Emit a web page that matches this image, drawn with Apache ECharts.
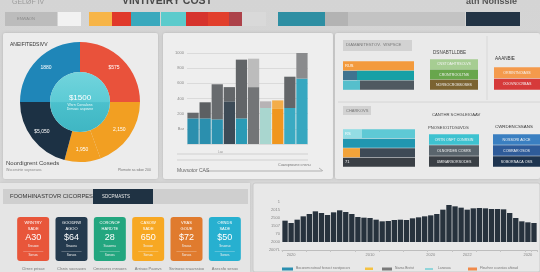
<!DOCTYPE html>
<html><head><meta charset="utf-8">
<script src="https://cdn.jsdelivr.net/npm/echarts/dist/echarts.min.js"></script>
<style>html,body{margin:0;padding:0;background:#d9d9d9}#c{width:540px;height:272px}</style>
</head><body><div id="c"></div>
<script>
const FONT = 'Liberation Sans, Arial, sans-serif';

// ---- header palette strip (segment shares, null colour = gap)
const swatchShares = [52,1,23,8,23,19,29,1,25,22,21,13,24,12,47,23,117,1,54];
const swatchColors = ['#bcbcbc',null,'#f2f2f2',null,'#f7b548','#e0392a','#3aa9bd',null,'#5ccbcc','#d6332d','#e23f2c','#ad424a','#d9d9d9',null,'#2e8fa3','#b3b3b3','#c3c3c3',null,'#233445'];

// ---- donut
const pieValues = [90,70,35,75,90];
const pieLabels = ['$575','2,150','1,950','$5,050','1880'];
const pieColors = ['#e9523b','#f29f22','#f29f22','#1c3144','#1f86b8'];
const pieCenterTitle = '$1500';

// ---- middle stacked bars
const costCats = ['A','B','C','D','E','F','G','H','I','J'];
const costBase = [27,27,26,45,27,60,38,37,38,69];
const costTop  = [6,17,37,15,62,30,7,9,33,27];
const costBaseColors = ['#2b8fae','#2b8fae','#2b92b0','#3d4b57','#2b9ab5','#737577','#a9d6cf','#f0961e','#3aaac2','#36a7c0'];
const costTopColors  = ['#66696c','#5c5f62','#686b6e','#636669','#626568','#bcbcbc','#b7b3b5','#f3ad4a','#636669','#8a8b8d'];
const costTicks = ['','Bar','200','400','600','800','1000'];

// ---- right panel stacks
const budgetRows = [[71],[14,57],[17,54]];
const budgetColors = [['#f39a3c'],['#3f7390','#17a0a6'],['#56bfcc','#4f5961']];
const budgetLabels = ['RUS','',''];
const channelRows = [[19,53],[72],[17,55],[72]];
const channelColors = [['#93dde4','#5ec9d5'],['#2196b0'],['#f2a33a','#3e4a56'],['#3a3f45']];
const channelLabels = ['RS','','','71'];
const greenBoxes = ['CNSTOAHTRSOLVS','CRONTROOLTNS','NORSOCROBSOSES'];
const greenColors = ['#a6cd92','#68a64c','#7b6331'];
const warmBoxes = ['ORRINTNOIASS','OOOVNOCRBAS'];
const warmColors = ['#f49a4c','#d63a3a'];
const tealBoxes = ['ORTN ONFT CONRSIN','OLNORDES COSRS','UMINARSORSODES'];
const tealColors = ['#3ec2d0','#5a656d','#3a3f45'];
const blueBoxes = ['NOSSORI AOCE','COBRAR OSOS','SOBORNACA OSS'];
const blueColors = ['#3a7fc1','#2e5b99','#1e344f'];

// ---- cards
const cardTitles = [['WRNTRY','SADE'],['GOODRW','AGOO'],['CORONOF','HARDTE'],['CASOW','SADE'],['VRAS','GOUE'],['ORNDS','SADE']];
const cardValues = ['A30','$64','28','650','$72','$50'];
const cardSubs = ['Srssooe','Srsaoss','Ssaoerss','Srooae','Srsoas','Srsoeso'];
const cardFooters = ['Sorsos','Sorsos','Sonoss','Sorsas','Sorsos','Sorses'];
const cardColors = ['#e8563a','#243a4e','#23a67f','#f7a823','#e07b2e','#27b0d0'];
const cardCaptions = ['Clrnre prisae','Clsnis soosaoes','Cmesorss rnnsoes','Arrisoo Paosvs','Ssrinoso sraarssioo','Asecsfo sesoo'];

// ---- bottom-right columns
const areaValues = [64,57,67,77,84,92,87,81,89,95,90,84,75,73,72,67,62,63,66,67,66,71,74,77,80,84,97,111,107,103,97,101,102,101,99,99,98,87,72,62,59,57];
const areaXLabels = ['', '2020','','','','','','','','','','','','','2010','','','','','','','','','','2020','','','','','','2022','','','','','','','','','','2020',''];
const areaYTicks = ['2007L','2000','70','1507','2500','2015','1'];

const grids=[], xAxes=[], yAxes=[], series=[];
function addGrid(g,x,y){grids.push(g);const i=grids.length-1;xAxes.push(Object.assign({gridIndex:i},x));yAxes.push(Object.assign({gridIndex:i},y));return i;}

// palette strip
let gi = addGrid({left:5,top:12,width:515,height:14},{type:'value',min:0,max:515,show:false},{type:'category',data:['s'],show:false});
swatchShares.forEach((w,i)=>series.push({type:'bar',xAxisIndex:gi,yAxisIndex:gi,stack:'sw',barWidth:'100%',data:[w],silent:true,itemStyle:{color:swatchColors[i]||'rgba(0,0,0,0)'}}));

// donut
series.push({type:'pie',center:[80,102],radius:[30,60],startAngle:90,silent:true,
  itemStyle:{borderWidth:0},
  data:pieValues.map((v,i)=>({value:v,name:'p'+i,itemStyle:{color:pieColors[i],borderWidth:0}})),
  label:{show:true,position:'inner',color:'#fff',fontSize:5,fontFamily:FONT,formatter:p=>pieLabels[p.dataIndex]},labelLine:{show:false}});
series.push({type:'pie',center:[80,102],radius:[0,30],silent:true,
  data:[{value:1,name:'c',itemStyle:{borderWidth:0,color:new echarts.graphic.LinearGradient(0,0,0,1,[{offset:0,color:'#72d4dc'},{offset:0.5,color:'#5ccbd5'},{offset:0.51,color:'#4bc0cc'},{offset:1,color:'#3fb6c3'}])}}],
  label:{show:true,position:'center',formatter:()=>`{a|${pieCenterTitle}}\n{b|Wsrn Corsalons}\n{b|Drmaoc aspovne}`,
    rich:{a:{fontSize:8,color:'#fff',fontFamily:FONT,lineHeight:10},b:{fontSize:3.5,color:'#e4f7f8',fontFamily:FONT,lineHeight:4.5}}},labelLine:{show:false}});

// middle stacked bars
gi = addGrid({left:187,top:53,width:121,height:91},
 {type:'category',data:costCats,axisLine:{show:false},axisTick:{show:false},axisLabel:{show:false}},
 {type:'value',min:0,max:96,interval:16,axisLine:{show:false},axisTick:{show:false},
  axisLabel:{fontSize:4,color:'#888',margin:3,fontFamily:FONT,formatter:v=>costTicks[Math.round(v/16)]},
  splitLine:{lineStyle:{color:'#cdcdcd',width:0.6}}});
series.push({type:'bar',xAxisIndex:gi,yAxisIndex:gi,stack:'cost',barCategoryGap:'7%',silent:true,
  data:costBase.map((v,i)=>({value:v,itemStyle:{color:costBaseColors[i]}}))});
series.push({type:'bar',xAxisIndex:gi,yAxisIndex:gi,stack:'cost',silent:true,
  data:costTop.map((v,i)=>({value:v,itemStyle:{color:costTopColors[i]}}))});

function stackChart(left,top,width,height,rows,colors,labels){
  const total=Math.max(...rows.map(r=>r.reduce((a,b)=>a+b,0)));
  const g=addGrid({left,top,width,height},{type:'value',min:0,max:total,show:false},{type:'category',inverse:true,data:rows.map((_,i)=>'r'+i),show:false});
  const n=Math.max(...rows.map(r=>r.length));
  for(let k=0;k<n;k++){
    series.push({type:'bar',xAxisIndex:g,yAxisIndex:g,stack:'st'+g,barCategoryGap:'4%',silent:true,
      data:rows.map((r,i)=>r[k]==null?'-':{value:r[k],itemStyle:{color:colors[i][k]}}),
      label:{show:k===0,position:'insideLeft',distance:2,fontSize:4,color:'#fff',fontFamily:FONT,formatter:p=>labels[p.dataIndex]}});
  }
}
function boxChart(left,top,width,height,texts,colors){
  const g=addGrid({left,top,width,height},{type:'value',min:0,max:1,show:false},{type:'category',inverse:true,data:texts,show:false});
  series.push({type:'bar',xAxisIndex:g,yAxisIndex:g,barCategoryGap:'3%',silent:true,
    data:texts.map((t,i)=>({value:1,itemStyle:{color:colors[i]}})),
    label:{show:true,position:'inside',fontSize:3.6,color:'#f4f4f4',fontFamily:FONT,formatter:p=>texts[p.dataIndex]}});
}
stackChart(343,61,71,29,budgetRows,budgetColors,budgetLabels);
stackChart(343,129,72,38,channelRows,channelColors,channelLabels);
boxChart(430,59,48,31,greenBoxes,greenColors);
boxChart(494,67,46,23,warmBoxes,warmColors);
boxChart(429,134,50,33,tealBoxes,tealColors);
boxChart(493,134,47,33,blueBoxes,blueColors);

// cards
gi = addGrid({left:14,top:217,width:230,height:44},
 {type:'category',data:cardCaptions,axisLine:{show:false},axisTick:{show:false},axisLabel:{interval:0,fontSize:4,color:'#777',margin:6,fontFamily:FONT}},
 {type:'value',min:0,max:1,show:false});
series.push({type:'bar',xAxisIndex:gi,yAxisIndex:gi,barWidth:32,silent:true,
  data:cardColors.map(c=>({value:1,itemStyle:{color:c,borderRadius:3}})),
  label:{show:true,position:'inside',fontFamily:FONT,
    formatter:p=>{const i=p.dataIndex;return `{t|${cardTitles[i][0]}}\n{t|${cardTitles[i][1]}}\n{v|${cardValues[i]}}\n{s|${cardSubs[i]}}\n{l|—————}\n{f|${cardFooters[i]}}`;},
    rich:{t:{fontSize:4,color:'#fff',lineHeight:5.5,fontFamily:FONT},v:{fontSize:9,color:'#fff',lineHeight:13,fontFamily:FONT},
      s:{fontSize:3,color:'#f0f0f0',lineHeight:4.5,fontFamily:FONT},l:{fontSize:4,color:'rgba(255,255,255,0.8)',lineHeight:4},f:{fontSize:3,color:'#f0f0f0',lineHeight:5,fontFamily:FONT}}}});

// bottom-right columns
gi = addGrid({left:282,top:202,width:255,height:48},
 {type:'category',data:areaValues.map((_,i)=>String(i)),axisLine:{onZero:false,lineStyle:{color:'#bdbdbd'}},
  axisTick:{show:true,interval:3,lineStyle:{color:'#c4c4c4'},length:2},
  axisLabel:{interval:0,fontSize:4,color:'#888',margin:3,fontFamily:FONT,formatter:(v,i)=>areaXLabels[i]}},
 {type:'value',min:-24,max:120,interval:24,axisLine:{show:false},axisTick:{show:false},splitLine:{show:false},
  axisLabel:{fontSize:4,color:'#888',margin:2,fontFamily:FONT,formatter:v=>areaYTicks[Math.round((v+24)/24)]}});
series.push({type:'bar',xAxisIndex:gi,yAxisIndex:gi,barCategoryGap:'12%',silent:true,data:areaValues,itemStyle:{color:'#27323d'}});

function txt(x,y,text,size,color,extra){return Object.assign({type:'text',x,y,z:100,style:Object.assign({text,fontSize:size,fill:color,fontFamily:FONT},extra||{})});}
function rect(x,y,w,h,fill,extra){return Object.assign({type:'rect',z:-10,shape:{x,y,width:w,height:h,r:(extra&&extra.r)||0},style:Object.assign({fill},(extra&&extra.style)||{})});}
function line(x1,y1,x2,y2,color,w){return {type:'line',z:-5,shape:{x1,y1,x2,y2},style:{stroke:color,lineWidth:w||0.6}};}

const elements = [
  {type:'rect',z:-20,shape:{x:0,y:0,width:540,height:272},style:{fill:new echarts.graphic.LinearGradient(0,0,0,1,[{offset:0,color:'#d4d4d4'},{offset:1,color:'#dadada'}])}},
  rect(3,33,155,146,'#ececec',{r:2,style:{shadowBlur:3,shadowColor:'rgba(0,0,0,0.15)'}}),
  rect(163,33,170,146,'#eeeeee',{r:2,style:{shadowBlur:3,shadowColor:'rgba(0,0,0,0.15)'}}),
  rect(335,33,205,146,'#eaeaea',{r:2,style:{shadowBlur:3,shadowColor:'rgba(0,0,0,0.15)'}}),
  line(338,102,540,102,'#d0d0d0',0.8),
  line(487,36,487,100,'#d4d4d4',0.8),
  rect(0,183,250,89,'#e5e5e5',{style:{shadowBlur:3,shadowColor:'rgba(0,0,0,0.12)'}}),
  rect(3,189,245,15,'#cfcfcf'),
  rect(93,189,60,15,'#1f3243'),
  rect(253,183,287,89,'#e8e8e8',{r:2,style:{stroke:'#c9c9c9',lineWidth:1}}),
  rect(343,40,69,11,'#d2d2d2'),
  rect(343,106,28,9,'#d2d2d2'),
  line(177,154,308,154,'#bdbdbd'),
  line(177,160,308,160,'#bdbdbd'),
  line(205,171,322,171,'#888'),
  line(319,168,323,171,'#888'),
  // header texts
  txt(12,-1,'GELØF IV',7,'#9a9a9a'),
  txt(122,-4,'VINTIVEIRY COST',10.5,'#4a4a4a',{fontWeight:'bold'}),
  txt(466,-3,'ath Nonssie',9,'#555',{fontWeight:'bold'}),
  txt(17,17,'ENWAON',4,'#8a8a8a'),
  // pie panel
  txt(10,42,'ANEIFITEDSIVV',5,'#333'),
  txt(6,160,'Noordigrent Coseds',6,'#444'),
  txt(6,168,'Wscorsinte soysseswa',3.5,'#888'),
  txt(118,168,'Plomote sa sdoe 200',3.5,'#777'),
  // middle
  txt(218,151,'Lao',3,'#999'),
  txt(278,163,'Cuwoproune cnsnu',3.8,'#777'),
  txt(177,168,'Muvsotor CAS',5,'#666'),
  // right
  txt(346,43,'DIAMANITESTOV.  WSPSCE',4.2,'#777'),
  txt(433,50,'DSNABTLLDBE',4.6,'#444'),
  txt(495,56,'AAANBIE',4.6,'#333'),
  txt(346,108.5,'CHARKOVS',4,'#777'),
  txt(432,113,'CANTHR SCHGLEIOAAV',4.2,'#444'),
  txt(428,126,'PNOSEIO1TDS0VDS',4.2,'#444'),
  txt(495,125,'CWRDENCSSANS',4.4,'#333'),
  // bottom-left header
  txt(10,193.5,'FOOMHINASTOVR CICORPES',5.8,'#333'),
  txt(102,194,'SDCPMASTS',4.5,'#e8e8e8'),
  // bottom-right legend
  rect(282,267.5,11,3,'#2a8fb0'),
  txt(296,267,'Bocoromcrutssaf fsvsoct ssvotpoccrs',3.3,'#777'),
  rect(365,267.5,8,2.5,'#f5c242'),
  rect(382,267.5,10,3,'#7a7a7a'),
  txt(395,267,'Nozsa Brotst',3.3,'#777'),
  line(425,269,433,269,'#56c8d0',1.2),
  txt(438,267,'Lanosoa',3.3,'#777'),
  rect(468,267.5,9,3,'#f08a4b'),
  txt(480,267,'Fleurhee ccanstas ahtead',3.3,'#777'),
];
elements.forEach(e=>{ if(e.type==='rect' && e.shape.y>260){ e.z=50; } });

const chart = echarts.init(document.getElementById('c'),null,{renderer:'canvas'});
chart.setOption({animation:false,grid:grids,xAxis:xAxes,yAxis:yAxes,series,graphic:{elements}});
</script></body></html>
